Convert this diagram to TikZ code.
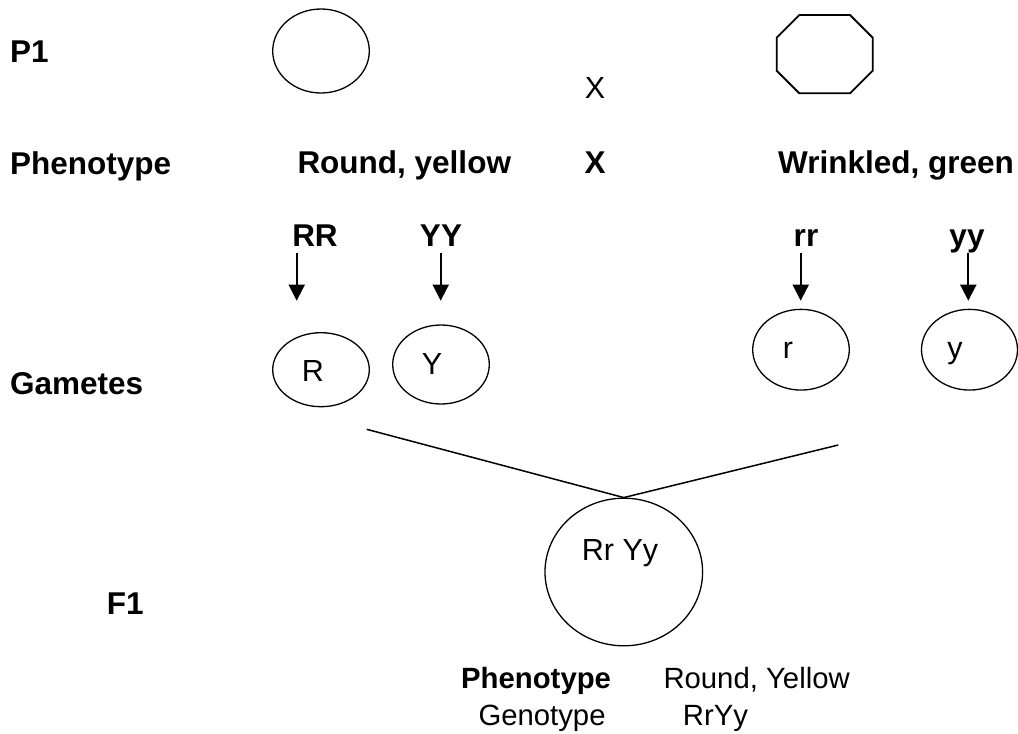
\documentclass[tikz,border=0pt]{standalone}
\usepackage{fontspec}
\setmainfont{Liberation Sans}
\usetikzlibrary{shapes.geometric,arrows.meta}
\begin{document}
\begin{tikzpicture}[x=1pt,y=-1pt,
  lbl/.style={inner sep=0pt,anchor=base west,font=\fontsize{31.5}{36}\selectfont\bfseries},
  blbl/.style={inner sep=0pt,anchor=base,font=\fontsize{31.5}{36}\selectfont\bfseries},
  txt/.style={inner sep=0pt,anchor=base,font=\fontsize{30.5}{36}\selectfont},
  btxt/.style={inner sep=0pt,anchor=base west,font=\fontsize{29.3}{34}\selectfont},
  bbtxt/.style={inner sep=0pt,anchor=base west,font=\fontsize{29.3}{34}\selectfont\bfseries},
  oval/.style={ellipse,draw,line width=1.3pt,inner sep=0pt,minimum width=96.6pt},
  garrow/.style={line width=1.8pt,-{Triangle[length=16pt,width=16pt]}},
  cross/.style={line width=1.5pt}]
\useasboundingbox (0,0) rectangle (1018,734);
% left labels
\node[lbl] (lp1) at (10,62.7) {P1};
\node[lbl] (lphen) at (10,174) {Phenotype};
\node[lbl] (lgam) at (10,394) {Gametes};
\node[lbl] (lf1) at (106.7,614) {F1};
% P1 shapes
\node[oval,minimum height=84pt] (round) at (321,51) {};
\draw[line width=1.8pt] (799.3,15) -- (850,15) -- (872.7,37.7) -- (872.7,70.7) -- (850,93.3) -- (799.3,93.3) -- (776.7,70.7) -- (776.7,37.7) -- cycle;
\node[txt] (xtop) at (595,98.3) {X};
% phenotype row
\node[lbl] (ry) at (297.3,173.3) {Round, yellow};
\node[blbl] (xmid) at (595,173.3) {X};
\node[lbl] (wg) at (778,173.3) {Wrinkled, green};
% genotypes
\node[blbl] (RR) at (315,246.7) {RR};
\node[blbl] (YY) at (441,246.7) {YY};
\node[blbl] (rr) at (806,246.7) {rr};
\node[blbl] (yy) at (967,246.7) {yy};
\coordinate (aRR) at (296.7,252.7);
\coordinate (aYY) at (440.7,252.7);
\coordinate (arr) at (800.7,252.7);
\coordinate (ayy) at (968.3,252.7);
\coordinate (tRR) at (296.7,300.7);
\coordinate (tYY) at (440.7,300.7);
\coordinate (trr) at (800.7,300.7);
\coordinate (tyy) at (968.3,300.7);
\draw[garrow] (aRR) -- (tRR);
\draw[garrow] (aYY) -- (tYY);
\draw[garrow] (arr) -- (trr);
\draw[garrow] (ayy) -- (tyy);
% gametes
\node[oval,minimum height=74pt] (gR) at (321,369.7) {};
\node[oval,minimum height=79pt] (gY) at (441,364.5) {};
\node[oval,minimum height=80.7pt] (gr) at (801,349.7) {};
\node[oval,minimum width=96pt,minimum height=80.7pt] (gy) at (969.5,349.7) {};
\node[txt] (tR) at (313,381.7) {R};
\node[txt] (tY) at (432,374.3) {Y};
\node[txt] (tr) at (788,358.3) {r};
\node[txt] (ty) at (955,358.3) {y};
% F1
\node[ellipse,draw,line width=1.3pt,inner sep=0pt,minimum width=157.6pt,minimum height=147.6pt] (f1) at (623.8,572) {};
\node[txt,anchor=base west] (f1g) at (581.7,560) {Rr Yy};
\coordinate (cl) at (366.7,429.3);
\coordinate (cr) at (838.3,445);
\draw[cross] (cl) -- (f1.north);
\draw[cross] (cr) -- (f1.north);
% bottom
\node[bbtxt] (bphen) at (461,688.3) {Phenotype};
\node[btxt] (bgen) at (478.3,725) {Genotype};
\node[btxt] (bry) at (663.3,688.3) {Round, Yellow};
\node[btxt] (brryy) at (682.7,725) {RrYy};
\end{tikzpicture}
\end{document}
